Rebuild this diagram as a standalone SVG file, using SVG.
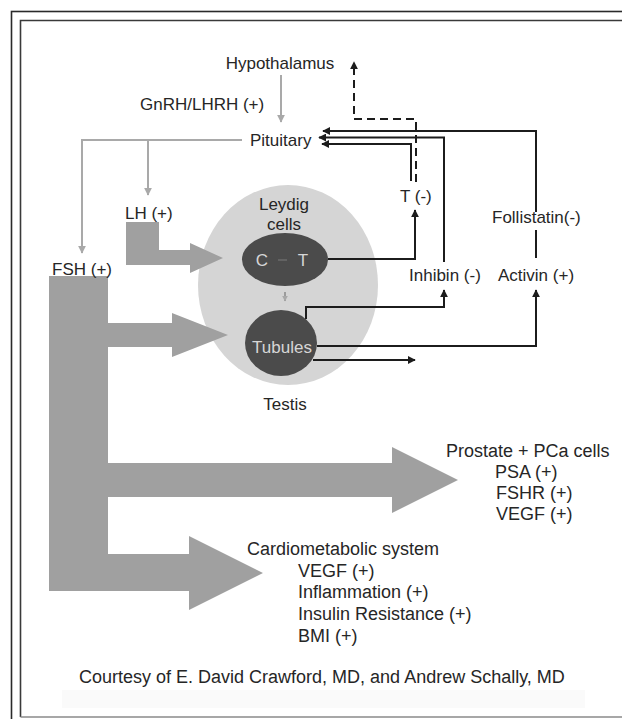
<svg xmlns="http://www.w3.org/2000/svg" width="622" height="719" viewBox="0 0 622 719">
<defs>
<style>
text{font-family:"Liberation Sans",Arial,sans-serif;font-size:17px;fill:#262626}
.big{font-size:18px}
.inv{fill:#d6d6d6}
.blk{fill:none;stroke:#1c1c1c;stroke-width:2}
.gry{fill:none;stroke:#a9a9a9;stroke-width:2}
.dash{fill:none;stroke:#1c1c1c;stroke-width:2;stroke-dasharray:8 5}
.band{fill:#a0a0a0}
</style>
<marker id="ab" viewBox="0 0 10 10" refX="9" refY="5" markerWidth="4" markerHeight="4" orient="auto" markerUnits="strokeWidth"><path d="M0,0 L10,5 L0,10 z" fill="#1c1c1c"/></marker>
<marker id="ag" viewBox="0 0 10 10" refX="9" refY="5" markerWidth="4" markerHeight="4" orient="auto" markerUnits="strokeWidth"><path d="M0,0 L10,5 L0,10 z" fill="#a9a9a9"/></marker>
</defs>
<rect width="622" height="719" fill="#fff"/>
<g id="frame">
<rect x="11.5" y="11.5" width="640" height="740" fill="none" stroke="#2a2a2a" stroke-width="1.6"/>
<polyline points="20.5,717 20.5,20.5 640,20.5" fill="none" stroke="#3a3a3a" stroke-width="1.6"/>
<line x1="20.5" y1="717" x2="640" y2="717" stroke="#8a8a8a" stroke-width="1.6"/>
<rect x="62" y="690" width="523" height="18" fill="#fafafa"/>
</g>
<g id="testis">
<ellipse cx="288" cy="285" rx="90" ry="100" fill="#d5d5d5"/>
<text x="285" y="410" text-anchor="middle">Testis</text>
</g>
<g id="leydig">
<text x="284" y="210" text-anchor="middle">Leydig</text>
<text x="284" y="230" text-anchor="middle">cells</text>
<ellipse cx="285" cy="259.5" rx="43" ry="26.5" fill="#4b4b4b"/>
<text class="inv" x="262" y="266" text-anchor="middle">C</text>
<text class="inv" x="303" y="266" text-anchor="middle">T</text>
<line x1="278" y1="260" x2="287" y2="260" stroke="#6a6a6a" stroke-width="1.5"/>
</g>
<g id="tubules">
<ellipse cx="281" cy="343" rx="36" ry="33" fill="#4b4b4b"/>
<text class="inv" x="282" y="353" text-anchor="middle">Tubules</text>
</g>
<g id="fsh-arrows">
<polygon class="band" points="49,276 108,276 108,323 172,323 172,313 228,335 172,357 172,347 108,347 108,463 392,463 392,447 458,480 392,513 392,497 108,497 108,554 189,554 189,536 263,573 189,610 189,591 49,591"/>
</g>
<g id="lh-arrow">
<polygon class="band" points="126,222 159,222 159,250 190,250 190,243 223,258 190,273 190,265 126,265"/>
</g>
<g id="connectors">
<line class="gry" x1="281" y1="75" x2="281" y2="122" marker-end="url(#ag)"/>
<polyline class="gry" points="242,140 82,140 82,253" marker-end="url(#ag)"/>
<line class="gry" x1="148" y1="140" x2="148" y2="195" marker-end="url(#ag)"/>
<line x1="285" y1="292" x2="285" y2="301" stroke="#888" stroke-width="1.5" marker-end="url(#ag)"/>
<polyline class="blk" points="328,259 415,259 415,210" marker-end="url(#ab)"/>
<polyline class="blk" points="411,181 411,144 322,144" marker-end="url(#ab)"/>
<polyline class="blk" points="444,262 444,137.5 319,137.5" marker-end="url(#ab)"/>
<polyline class="blk" points="536,212 536,131 323,131" marker-end="url(#ab)"/>
<line class="blk" x1="536" y1="230" x2="536" y2="258"/>
<polyline class="dash" points="416,182 416,119 354,119 354,62" marker-end="url(#ab)"/>
<polyline class="blk" points="306,319 306,307 444,307 444,290" marker-end="url(#ab)"/>
<polyline class="blk" points="317,346 536,346 536,290" marker-end="url(#ab)"/>
<line class="blk" x1="313" y1="360" x2="415" y2="360" marker-end="url(#ab)"/>
</g>
<g id="hypothalamus"><text x="280" y="69" text-anchor="middle">Hypothalamus</text></g>
<g id="gnrh"><text x="140" y="110">GnRH/LHRH (+)</text></g>
<g id="pituitary"><text x="250" y="146">Pituitary</text></g>
<g id="lh"><text x="125" y="219">LH (+)</text></g>
<g id="fsh"><text x="52" y="275">FSH (+)</text></g>
<g id="t"><text x="400" y="202">T (-)</text></g>
<g id="follistatin"><text x="492" y="223">Follistatin(-)</text></g>
<g id="inhibin"><text x="409" y="281">Inhibin (-)</text></g>
<g id="activin"><text x="498" y="281">Activin (+)</text></g>
<g id="prostate">
<text class="big" x="446" y="457">Prostate + PCa cells</text>
<text class="big" x="495" y="478">PSA (+)</text>
<text class="big" x="496" y="499">FSHR (+)</text>
<text class="big" x="496" y="520">VEGF (+)</text>
</g>
<g id="cardio">
<text class="big" x="247" y="555">Cardiometabolic system</text>
<text class="big" x="298" y="577">VEGF (+)</text>
<text class="big" x="298" y="598">Inflammation (+)</text>
<text class="big" x="298" y="620">Insulin Resistance (+)</text>
<text class="big" x="298" y="642">BMI (+)</text>
</g>
<g id="credit"><text class="big" x="79" y="683">Courtesy of E. David Crawford, MD, and Andrew Schally, MD</text></g>
</svg>
